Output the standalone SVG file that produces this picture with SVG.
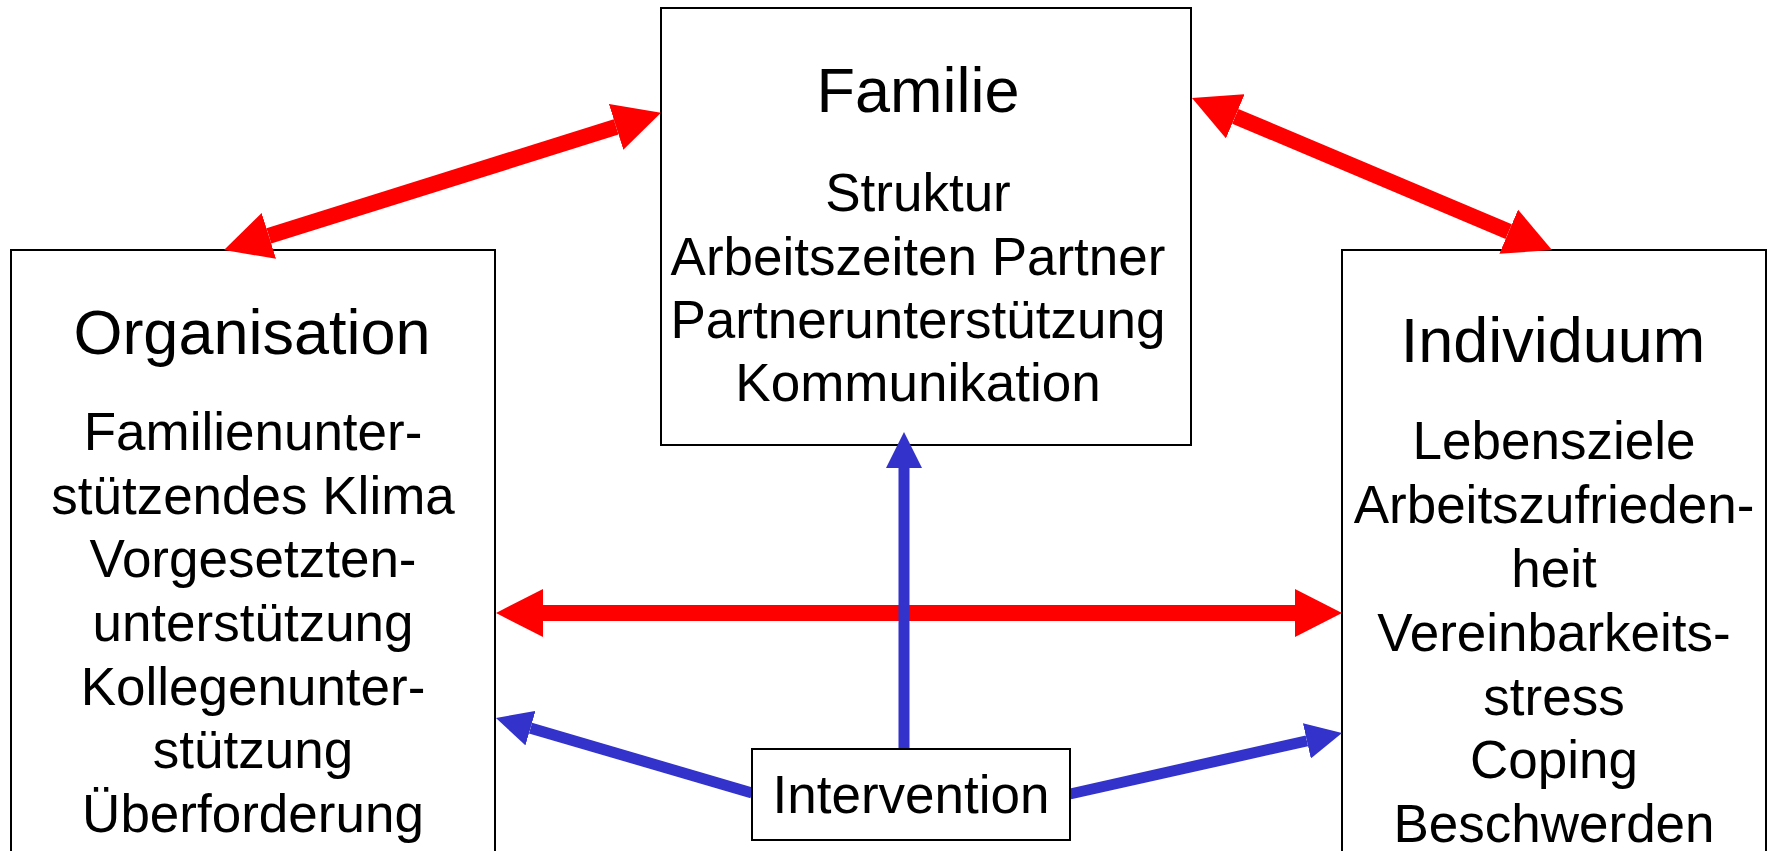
<svg xmlns="http://www.w3.org/2000/svg" width="1768" height="851" viewBox="0 0 1768 851">
<style>
.box{fill:#fff;stroke:#000;stroke-width:2}
.t{font-family:"Liberation Sans",Arial,sans-serif;text-anchor:middle;fill:#000}
.title{font-size:63px}
.body{font-size:53px}
.red{stroke:#ff0000;stroke-width:16;fill:none}
.blue{stroke:#3333cc;stroke-width:11;fill:none}
</style>
<defs>
<marker id="rh" markerUnits="userSpaceOnUse" viewBox="0 0 47 48" markerWidth="47" markerHeight="48" refX="0" refY="24" orient="auto-start-reverse">
<path d="M0,0 L47,24 L0,48 z" fill="#ff0000"/>
</marker>
<marker id="bh" markerUnits="userSpaceOnUse" viewBox="0 0 36 36" markerWidth="36" markerHeight="36" refX="0" refY="18" orient="auto">
<path d="M0,0 L36,18 L0,36 z" fill="#3333cc"/>
</marker>
</defs>
<rect width="1768" height="851" fill="#fff"/>
<g id="familie">
<rect class="box" x="661" y="8" width="530" height="437"/>
<text class="t title" x="918" y="112">Familie</text>
<text class="t body" x="918" y="211">Struktur</text>
<text class="t body" x="918" y="275">Arbeitszeiten Partner</text>
<text class="t body" x="918" y="338">Partnerunterstützung</text>
<text class="t body" x="918" y="401">Kommunikation</text>
</g>
<g id="organisation">
<rect class="box" x="11" y="250" width="484" height="640"/>
<text class="t title" x="252" y="354">Organisation</text>
<text class="t body" x="253" y="450">Familienunter-</text>
<text class="t body" x="253" y="514">stützendes Klima</text>
<text class="t body" x="253" y="577">Vorgesetzten-</text>
<text class="t body" x="253" y="641">unterstützung</text>
<text class="t body" x="253" y="705">Kollegenunter-</text>
<text class="t body" x="253" y="768">stützung</text>
<text class="t body" x="253" y="832">Überforderung</text>
</g>
<g id="individuum">
<rect class="box" x="1342" y="250" width="424" height="640"/>
<text class="t title" x="1553" y="362">Individuum</text>
<text class="t body" x="1554" y="459">Lebensziele</text>
<text class="t body" x="1554" y="523">Arbeitszufrieden-</text>
<text class="t body" x="1554" y="587">heit</text>
<text class="t body" x="1554" y="651">Vereinbarkeits-</text>
<text class="t body" x="1554" y="715">stress</text>
<text class="t body" x="1554" y="778">Coping</text>
<text class="t body" x="1554" y="842">Beschwerden</text>
</g>
<g id="connectors">
<line class="red" x1="543" y1="613" x2="1295" y2="613" marker-start="url(#rh)" marker-end="url(#rh)"/>
<line class="red" x1="268.85" y1="235.94" x2="616.15" y2="126.94" marker-start="url(#rh)" marker-end="url(#rh)"/>
<line class="red" x1="1235.3" y1="116.28" x2="1508.7" y2="231.72" marker-start="url(#rh)" marker-end="url(#rh)"/>
<line class="blue" x1="904" y1="749" x2="904" y2="468" marker-end="url(#bh)"/>
<line class="blue" x1="752" y1="793" x2="530.5" y2="728.1" marker-end="url(#bh)"/>
<line class="blue" x1="1070" y1="794" x2="1306.9" y2="740.9" marker-end="url(#bh)"/>
</g>
<g id="intervention">
<rect class="box" x="752" y="749" width="318" height="91"/>
<text class="t body" x="911" y="813">Intervention</text>
</g>
</svg>
